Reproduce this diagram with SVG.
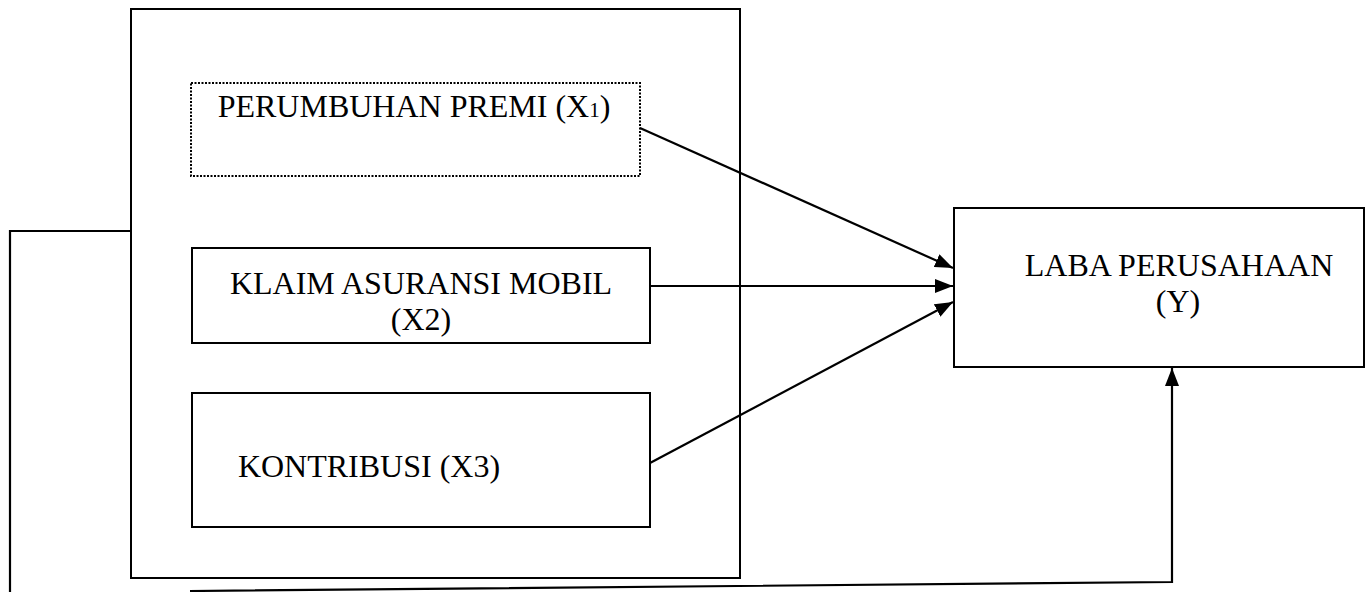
<svg xmlns="http://www.w3.org/2000/svg" width="1370" height="592" viewBox="0 0 1370 592">
<defs>
<marker id="ah" markerWidth="18" markerHeight="14" refX="18" refY="7" orient="auto" markerUnits="userSpaceOnUse">
<path d="M0,0 L18,7 L0,14 Z" fill="#000"/>
</marker>
</defs>
<style>
.box{fill:#fff;stroke:#000;stroke-width:2}
.dot{fill:#fff;stroke:#000;stroke-width:2;stroke-dasharray:2 1.5}
.t{font-family:"Liberation Serif","Times New Roman",serif;font-size:32px;fill:#000;text-anchor:middle}
.c{fill:none;stroke:#000;stroke-width:2.2}
</style>
<rect width="1370" height="592" fill="#fff"/>
<g id="outer"><rect class="box" x="131" y="9" width="609" height="569"/></g>
<g id="x1"><rect class="dot" x="191" y="83" width="449" height="93"/>
<text class="t" x="414" y="117">PERUMBUHAN PREMI (X<tspan font-size="21">1</tspan>)</text></g>
<g id="x2"><rect class="box" x="192" y="248" width="458" height="95"/>
<text class="t" x="421" y="294">KLAIM ASURANSI MOBIL</text>
<text class="t" x="421" y="330">(X2)</text></g>
<g id="x3"><rect class="box" x="192" y="393" width="458" height="134"/>
<text class="t" x="369" y="477">KONTRIBUSI (X3)</text></g>
<g id="y"><rect class="box" x="954" y="208" width="410" height="159"/>
<text class="t" x="1179" y="276">LABA PERUSAHAAN</text>
<text class="t" x="1178" y="312">(Y)</text></g>
<g id="connectors">
<line class="c" x1="640" y1="128" x2="953" y2="268" marker-end="url(#ah)"/>
<line class="c" x1="650" y1="286" x2="953" y2="286" marker-end="url(#ah)"/>
<line class="c" x1="650" y1="463" x2="953" y2="302" marker-end="url(#ah)"/>
<polyline class="c" points="131,231 10,231 10,592"/>
<polyline class="c" points="190,591 1172,582 1172,368" marker-end="url(#ah)"/>
</g>
</svg>
